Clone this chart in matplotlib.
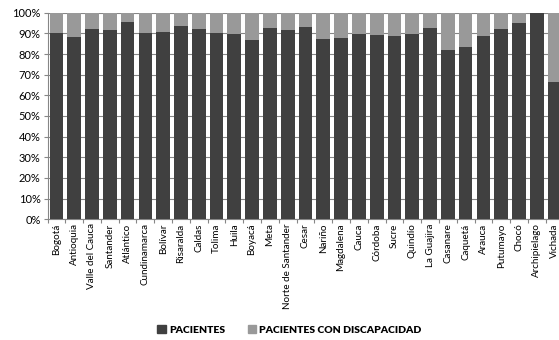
import matplotlib
matplotlib.use("Agg")
import matplotlib.pyplot as plt
import numpy as np
from matplotlib.patches import Patch
from matplotlib.ticker import FixedLocator, PercentFormatter

categories = ["Bogotá", "Antioquia", "Valle del Cauca", "Santander", "Atlántico",
              "Cundinamarca", "Bolívar", "Risaralda", "Caldas", "Tolima", "Huila",
              "Boyacá", "Meta", "Norte de Santander", "Cesar", "Nariño", "Magdalena",
              "Cauca", "Córdoba", "Sucre", "Quindío", "La Guajira", "Casanare",
              "Caquetá", "Arauca", "Putumayo", "Chocó", "Archipielago", "Vichada"]
pacientes = [90.3, 88.4, 92.1, 91.6, 95.5, 90.2, 90.6, 93.5, 92.1, 90.2, 89.8,
             86.8, 92.4, 91.5, 93.2, 87.4, 87.7, 89.5, 89.0, 88.7, 89.7, 92.4,
             81.9, 83.4, 88.7, 92.1, 95.2, 100.0, 66.5]
discapacidad = [100 - p for p in pacientes]
series_names = ["PACIENTES", "PACIENTES CON DISCAPACIDAD"]
colors = ["#404040", "#999999"]

plt.rcParams['font.family'] = ['Lato', 'DejaVu Sans']

fig = plt.figure(figsize=(5.59, 3.40), dpi=100)
W, H = 559, 340
left_px, right_px, top_px, bottom_px = 47.5, 563.5, 12.7, 219.3
ax = fig.add_axes([left_px / W, (H - bottom_px) / H,
                   (right_px - left_px) / W, (bottom_px - top_px) / H])

x = np.arange(len(categories))
ax.bar(x, pacientes, width=0.77, color=colors[0], zorder=3)
ax.bar(x, discapacidad, bottom=pacientes, width=0.77, color=colors[1], zorder=3)

ax.set_xlim(-0.5, len(categories) - 0.5)
ax.set_ylim(0, 100)
ax.yaxis.set_major_locator(FixedLocator(np.arange(0, 101, 10)))
ax.yaxis.set_major_formatter(PercentFormatter(decimals=0))
ax.set_xticks(x)
ax.set_xticklabels(categories, rotation=90, fontsize=7.1)
ax.set_xticks(np.arange(-0.5, len(categories), 1), minor=True)
ax.tick_params(axis='x', which='major', length=0, pad=3)
ax.tick_params(axis='x', which='minor', length=3, color="#868686", width=0.8)
ax.tick_params(axis='y', length=3, color="#868686", width=0.8, labelsize=8, pad=2)

ax.grid(axis='y', color="#868686", linewidth=0.8, zorder=0)
for s in ['top', 'right']:
    ax.spines[s].set_visible(False)
for s in ['left', 'bottom']:
    ax.spines[s].set_color("#868686")
    ax.spines[s].set_linewidth(0.8)

handles = [Patch(color=c, label=n) for c, n in zip(colors, series_names)]
fig.legend(handles=handles, loc='center', bbox_to_anchor=(0.518, 0.03), ncol=2,
           frameon=False, prop={'weight': 'heavy', 'size': 7.5},
           handlelength=0.8, handleheight=0.8, handletextpad=0.3, columnspacing=2.2)

fig.savefig("out.png", dpi=100)
